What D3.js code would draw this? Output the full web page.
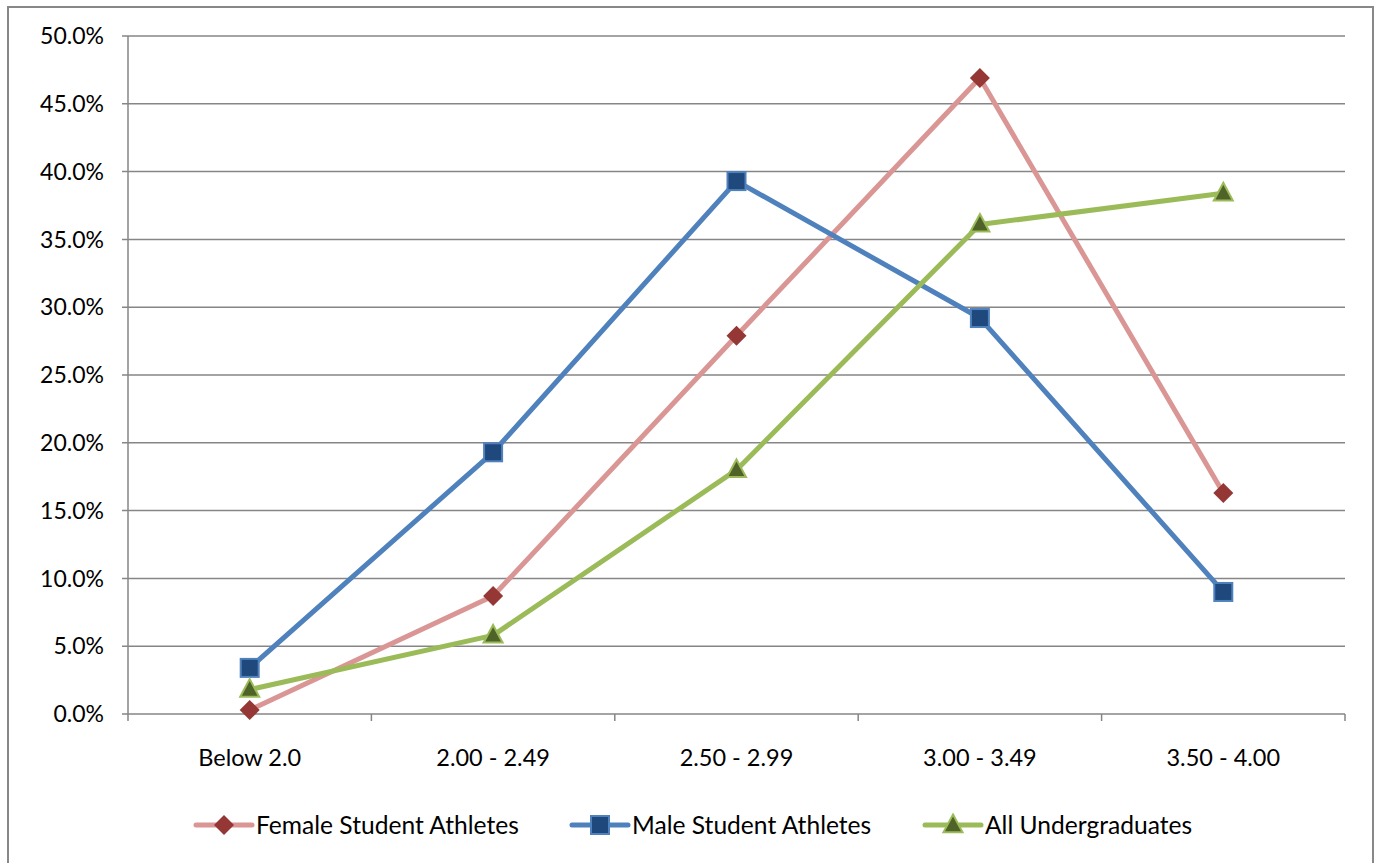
<!DOCTYPE html>
<html><head><meta charset="utf-8">
<script src="https://cdn.jsdelivr.net/npm/d3@7"></script>
<style>body{margin:0;background:#fff;}svg{display:block;font-family:Lato,"Open Sans",sans-serif;}</style>
</head><body><svg id="c" width="1377" height="863"></svg>
<script>
const categories = ["Below 2.0","2.00 - 2.49","2.50 - 2.99","3.00 - 3.49","3.50 - 4.00"];
const femaleValues = [0.3, 8.7, 27.9, 46.9, 16.3];
const maleValues = [3.4, 19.3, 39.3, 29.2, 9.0];
const allValues = [1.8, 5.8, 18.0, 36.1, 38.4];
const yTicks = [0,5,10,15,20,25,30,35,40,45,50];
const seriesNames = ["Female Student Athletes","Male Student Athletes","All Undergraduates"];

const series = [
  {name: seriesNames[0], values: femaleValues, line:"#D99694", fill:"#953735", stroke:"#953735", shape:"diamond"},
  {name: seriesNames[1], values: maleValues, line:"#4F81BD", fill:"#1F497D", stroke:"#4F81BD", shape:"square"},
  {name: seriesNames[2], values: allValues, line:"#9BBB59", fill:"#4F6228", stroke:"#9BBB59", shape:"triangle"}
];

const svg = d3.select("#c");
svg.append("path").attr("d","M8,863 V7 H1373 V863").attr("fill","none").attr("stroke","#888").attr("stroke-width",2);

const L=128, R=1345, T=36, B=714;
const x = d3.scaleBand().domain(categories).range([L,R]);
const y = d3.scaleLinear().domain([0,50]).range([B,T]);
const grid="#868686";

svg.append("g").selectAll("line").data(yTicks).join("line")
  .attr("x1",L-6).attr("x2",R).attr("y1",d=>y(d)).attr("y2",d=>y(d))
  .attr("stroke",grid).attr("stroke-width",1.5);
svg.append("line").attr("x1",L).attr("x2",L).attr("y1",T).attr("y2",B).attr("stroke",grid).attr("stroke-width",1.5);
const bounds = categories.map(c=>x(c)).concat([R]);
svg.append("g").selectAll("line").data(bounds).join("line")
  .attr("x1",d=>d).attr("x2",d=>d).attr("y1",B).attr("y2",B+7).attr("stroke",grid).attr("stroke-width",1.5);

svg.append("g").selectAll("text").data(yTicks).join("text")
  .attr("x",L-24).attr("y",d=>y(d)).attr("dy","0.36em").attr("text-anchor","end")
  .attr("font-size",23).attr("fill","#000").text(d=>d.toFixed(1)+"%");
svg.append("g").selectAll("text").data(categories).join("text")
  .attr("x",d=>x(d)+x.bandwidth()/2).attr("y",766).attr("text-anchor","middle")
  .attr("font-size",23.5).attr("fill","#000").text(d=>d);

function marker(g, shape, s){
  if(shape==="diamond") return g.append("path").attr("d",`M0,${-s}L${s},0L0,${s}L${-s},0Z`);
  if(shape==="square") return g.append("rect").attr("x",-s).attr("y",-s).attr("width",2*s).attr("height",2*s);
  return g.append("path").attr("d",`M0,${-s*1.1}L${s},${s*0.75}L${-s},${s*0.75}Z`);
}
const sizes={diamond:10, square:9, triangle:9.5};

const line = d3.line().x((d,i)=>x(categories[i])+x.bandwidth()/2).y(d=>y(d));
series.forEach(s=>{
  svg.append("path").datum(s.values).attr("d",line).attr("fill","none")
    .attr("stroke",s.line).attr("stroke-width",5).attr("stroke-linejoin","round").attr("stroke-linecap","round");
});
series.forEach(s=>{
  s.values.forEach((v,i)=>{
    const g=svg.append("g").attr("transform",`translate(${x(categories[i])+x.bandwidth()/2},${y(v)})`);
    marker(g,s.shape,sizes[s.shape]).attr("fill",s.fill).attr("stroke",s.stroke).attr("stroke-width",s.shape==="diamond"?0:2);
  });
});

const legX=[196,572,925];
series.forEach((s,i)=>{
  const g=svg.append("g").attr("transform",`translate(${legX[i]},825)`);
  g.append("line").attr("x1",0).attr("x2",56).attr("stroke",s.line).attr("stroke-width",5).attr("stroke-linecap","round");
  const m=svg.append("g").attr("transform",`translate(${legX[i]+28},825)`);
  marker(m,s.shape,sizes[s.shape]).attr("fill",s.fill).attr("stroke",s.stroke).attr("stroke-width",s.shape==="diamond"?0:2);
  g.append("text").attr("x",60).attr("y",0).attr("dy","0.36em").attr("font-size",24.6).attr("fill","#000").text(s.name);
});
</script></body></html>
